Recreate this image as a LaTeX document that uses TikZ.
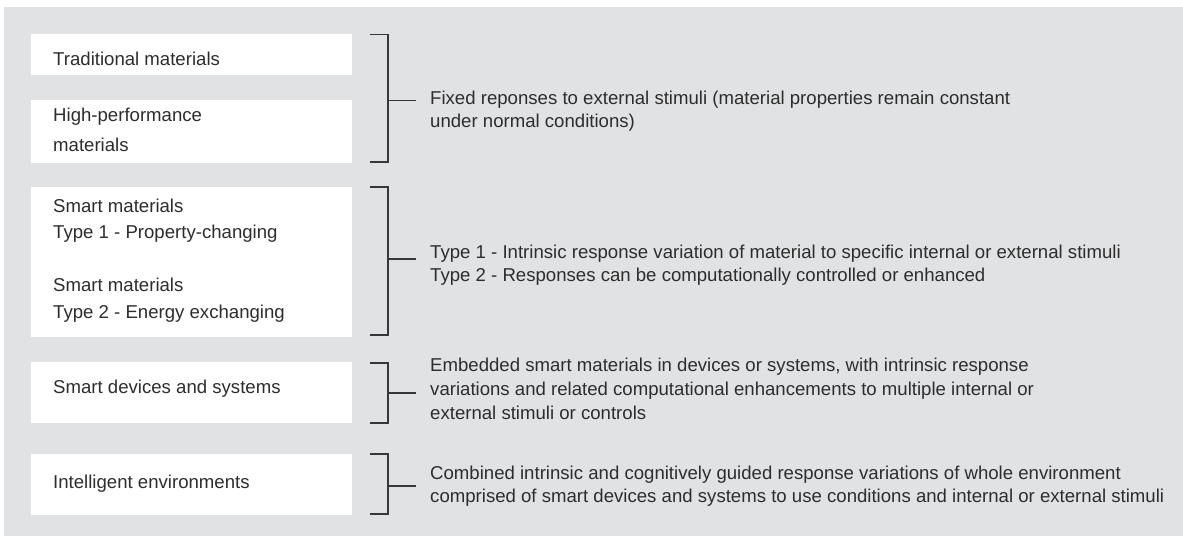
\documentclass[tikz,border=0pt]{standalone}
\usepackage{fontspec}
\setmainfont{Liberation Sans}
\definecolor{bg}{RGB}{225,226,228}
\definecolor{txt}{RGB}{45,45,45}
\definecolor{ln}{RGB}{55,55,55}
\begin{document}
\begin{tikzpicture}[x=1pt,y=-1pt,
  lbl/.style={anchor=base west, inner sep=0pt, text=txt, font=\fontsize{18.6}{22}\selectfont},
  whitebox/.style={fill=white, draw=none, inner sep=0pt, anchor=north west},
  brk/.style={draw=ln, line width=1.3pt}]
\useasboundingbox (0,0) rectangle (1183,536);
\fill[bg] (4,7) rectangle (1183,536);
% boxes
\node[whitebox, minimum width=321pt, minimum height=41pt] (box1) at (31,34) {};
\node[whitebox, minimum width=321pt, minimum height=63pt] (box2) at (31,100) {};
\node[whitebox, minimum width=321pt, minimum height=150pt] (box3) at (31,187) {};
\node[whitebox, minimum width=321pt, minimum height=61pt] (box4) at (31,362) {};
\node[whitebox, minimum width=321pt, minimum height=61pt] (box5) at (31,454) {};
% left labels
\node[lbl] (l1) at (53,65) {Traditional materials};
\node[lbl] (l2a) at (53,121.7) {High-performance};
\node[lbl] (l2b) at (53,151.7) {materials};
\node[lbl] (l3a) at (53,212.7) {Smart materials};
\node[lbl] (l3b) at (53,238.3) {Type 1 - Property-changing};
\node[lbl] (l3c) at (53,291.7) {Smart materials};
\node[lbl] (l3d) at (53,318.3) {Type 2 - Energy exchanging};
\node[lbl] (l4) at (53,393.3) {Smart devices and systems};
\node[lbl] (l5) at (53,488.3) {Intelligent environments};
% brackets
\coordinate (b1t) at (370,34.5); \coordinate (b1b) at (370,162); \coordinate (b1m) at (388,100.5); \coordinate (b1e) at (416,100.5);
\coordinate (b2t) at (370,187); \coordinate (b2b) at (370,335); \coordinate (b2m) at (388,259); \coordinate (b2e) at (416,259);
\coordinate (b3t) at (370,363); \coordinate (b3b) at (370,423); \coordinate (b3m) at (388,393); \coordinate (b3e) at (416,393);
\coordinate (b4t) at (370,454); \coordinate (b4b) at (370,514); \coordinate (b4m) at (388,486); \coordinate (b4e) at (416,486);
\foreach \i in {1,2,3,4}{
  \draw[brk] (b\i t) -| (b\i m |- b\i b) -- (b\i b);
  \draw[brk] (b\i m) -- (b\i e);
}
% right labels
\node[lbl] (r1a) at (430,104.3) {Fixed reponses to external stimuli (material properties remain constant};
\node[lbl] (r1b) at (430,127.7) {under normal conditions)};
\node[lbl] (r2a) at (430,258.3) {Type 1 - Intrinsic response variation of material to specific internal or external stimuli};
\node[lbl] (r2b) at (430,281.3) {Type 2 - Responses can be computationally controlled or enhanced};
\node[lbl] (r3a) at (430,371.7) {Embedded smart materials in devices or systems, with intrinsic response};
\node[lbl] (r3b) at (430,395.5) {variations and related computational enhancements to multiple internal or};
\node[lbl] (r3c) at (430,419.3) {external stimuli or controls};
\node[lbl] (r4a) at (430,479.3) {Combined intrinsic and cognitively guided response variations of whole environment};
\node[lbl] (r4b) at (430,502.7) {comprised of smart devices and systems to use conditions and internal or external stimuli};
\end{tikzpicture}
\end{document}
